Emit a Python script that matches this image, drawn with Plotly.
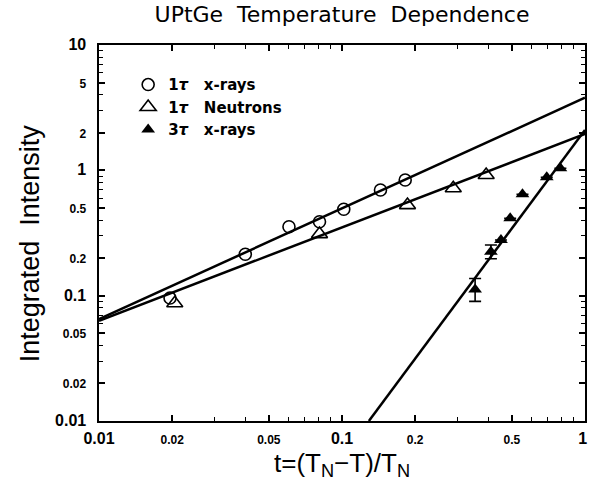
import plotly.graph_objects as go

# ---- data ----
t_circ = [0.0196, 0.040, 0.0605, 0.0808, 0.1017, 0.144, 0.182]
I_circ = [0.0957, 0.214, 0.355, 0.389, 0.489, 0.697, 0.837]

t_otri = [0.0205, 0.0808, 0.186, 0.287, 0.392]
I_otri = [0.087, 0.31, 0.528, 0.72, 0.917]

t_ftri = [0.353, 0.410, 0.451, 0.492, 0.553, 0.696, 0.792]
I_ftri = [0.112, 0.224, 0.278, 0.414, 0.643, 0.879, 1.04]
err_plus = [0.025, 0.03, None, None, None, None, None]
err_minus = [0.022, 0.027, None, None, None, None, None]

fit_t = [0.01, 1.0]
fit_circ = [0.065, 3.8]
fit_otri = [0.063, 1.95]
fit3_t = [0.129, 1.0]
fit_ftri = [0.01, 2.1]

y_major = [0.01, 0.02, 0.05, 0.1, 0.2, 0.5, 1, 2, 5, 10]
y_labels = ["0.01", "0.02", "0.05", "0.1", "0.2", "0.5", "1", "2", "5", "10"]
x_major = [0.01, 0.02, 0.05, 0.1, 0.2, 0.5, 1]
x_labels = ["0.01", "0.02", "0.05", "0.1", "0.2", "0.5", "1\u00a0"]

big = {"0.01", "0.1", "1", "1\u00a0", "10"}
FONT = "Liberation Sans, Arial, sans-serif"


def fmt(lbl):
    size = 16 if lbl in big else 12
    return f"<span style='font-size:{size}px'><b>{lbl}</b></span>"


def minor_vals(lo_exp, hi_exp, major):
    vals = []
    for e in range(lo_exp, hi_exp):
        for m in range(1, 10):
            v = round(m * 10 ** e, 6)
            if v not in major:
                vals.append(v)
    return vals


fig = go.Figure()

line_style = dict(color="black", width=2.5)
fig.add_trace(go.Scatter(x=fit_t, y=fit_circ, mode="lines", line=line_style, showlegend=False))
fig.add_trace(go.Scatter(x=fit_t, y=fit_otri, mode="lines", line=line_style, showlegend=False))
fig.add_trace(go.Scatter(x=fit3_t, y=fit_ftri, mode="lines", line=line_style, showlegend=False))

fig.add_trace(go.Scatter(
    x=t_circ, y=I_circ, mode="markers", name="1<i>τ</i>   x-rays",
    marker=dict(symbol="circle-open", size=12, color="black", line=dict(width=1.6)),
))
fig.add_trace(go.Scatter(
    x=t_otri, y=I_otri, mode="markers", name="1<i>τ</i>   Neutrons",
    marker=dict(symbol="triangle-up-open", size=14, color="black", line=dict(width=1.6)),
))
fig.add_trace(go.Scatter(
    x=t_ftri, y=I_ftri, mode="markers", name="3<i>τ</i>   x-rays",
    marker=dict(symbol="triangle-up", size=12, color="black"),
    error_y=dict(type="data", array=err_plus, arrayminus=err_minus, symmetric=False,
                 color="black", thickness=1.6, width=6),
))

axis_common = dict(
    type="log", showgrid=False, zeroline=False, showline=True, linecolor="black",
    linewidth=2, mirror="ticks", ticks="inside", ticklen=6, tickwidth=1.5,
    tickcolor="black", automargin=False, ticklabeloverflow="allow",
    tickfont=dict(family=FONT, color="black", size=14),
)

fig.update_xaxes(
    **axis_common,
    range=[-2, 0],
    tickmode="array", tickvals=x_major, ticktext=[fmt(s) for s in x_labels],
    ticklabelstandoff=4,
    minor=dict(tickmode="array", tickvals=minor_vals(-2, 0, x_major), ticks="inside",
               ticklen=4, tickwidth=1.2, tickcolor="black"),
)
fig.update_yaxes(
    **axis_common,
    range=[-2, 1],
    tickmode="array", tickvals=y_major, ticktext=[fmt(s) for s in y_labels],
    ticklabelstandoff=8,
    minor=dict(tickmode="array", tickvals=minor_vals(-2, 1, y_major), ticks="inside",
               ticklen=4, tickwidth=1.2, tickcolor="black"),
)

fig.add_annotation(
    text="Integrated  Intensity", xref="paper", yref="paper",
    x=-0.1417, y=0.473, xanchor="center", yanchor="middle", textangle=-90,
    showarrow=False, font=dict(family=FONT, size=27, color="black"),
)
fig.add_annotation(
    text="t=(T<sub>N</sub>−T)/T<sub>N</sub>", xref="paper", yref="paper",
    x=0.5, y=-0.066, xanchor="center", yanchor="top", showarrow=False,
    font=dict(family=FONT, size=26, color="black"),
)

fig.update_layout(
    width=589, height=499,
    margin=dict(l=99, r=4, t=45, b=78),
    paper_bgcolor="white", plot_bgcolor="white",
    title=dict(text="UPtGe  Temperature  Dependence", xref="paper", x=0.5, xanchor="center",
               yref="container", y=1 - 14 / 499, yanchor="middle",
               font=dict(family="DejaVu Sans, sans-serif", size=22, color="black")),
    legend=dict(x=0.06, y=0.938, xanchor="left", yanchor="top",
                bgcolor="rgba(0,0,0,0)", borderwidth=0,
                font=dict(family="DejaVu Sans, sans-serif", size=15, color="black", weight="bold"),
                tracegroupgap=0, itemsizing="trace"),
    showlegend=True,
)

fig.write_html("out.html", config={"displayModeBar": False},
               post_script="document.body.style.margin='0';")
